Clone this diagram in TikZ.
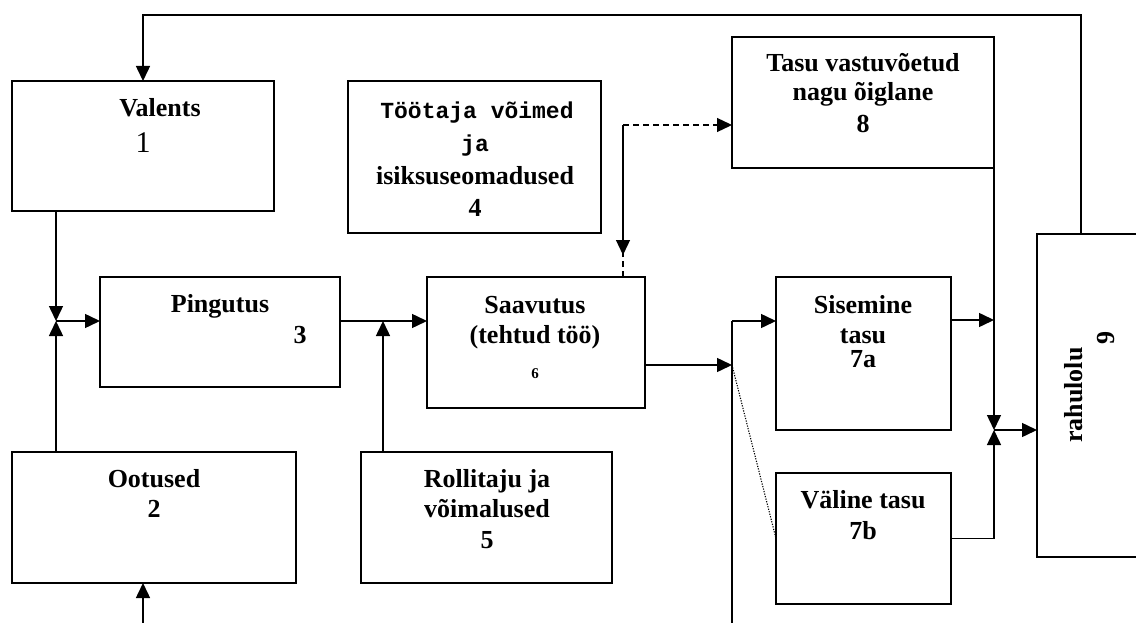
\documentclass[tikz,border=0pt]{standalone}
\usepackage{fontspec}
\setmainfont{Liberation Serif}
\newfontfamily\monobold{Liberation Mono}
\usetikzlibrary{arrows.meta}
\begin{document}
\begin{tikzpicture}[x=1pt,y=-1pt,
  box/.style={draw,line width=1.6pt,rectangle,inner sep=0pt,outer sep=0pt},
  link/.style={line width=1.5pt},
  arr/.style={link,-{Triangle[length=15pt,width=14pt]}},
  dashlink/.style={line width=1.3pt,dash pattern=on 6pt off 4pt},
  dotlink/.style={line width=1.1pt,dash pattern=on 1.2pt off 1.4pt},
  lbl/.style={inner sep=0pt,anchor=base,font=\fontsize{26}{31}\selectfont\bfseries},
  mono/.style={inner sep=0pt,anchor=base,font=\fontsize{23}{26}\selectfont\monobold\bfseries},
  bignum/.style={inner sep=0pt,anchor=base,font=\fontsize{30}{34}\selectfont},
  smallnum/.style={inner sep=0pt,anchor=base,font=\fontsize{15}{18}\selectfont\bfseries}
]
\useasboundingbox (0,0) rectangle (1136,623);

% boxes
\node[box,minimum width=262pt,minimum height=130pt] (val)  at (143,146) {};
\node[box,minimum width=253pt,minimum height=152pt] (abil) at (474.5,157) {};
\node[box,minimum width=262pt,minimum height=131pt] (fair) at (863,102.5) {};
\node[box,minimum width=240pt,minimum height=110pt] (eff)  at (220,332) {};
\node[box,minimum width=218pt,minimum height=131pt] (perf) at (536,342.5) {};
\node[box,minimum width=284pt,minimum height=131pt] (exp)  at (154,517.5) {};
\node[box,minimum width=251pt,minimum height=131pt] (role) at (486.5,517.5) {};
\node[box,minimum width=175pt,minimum height=153pt] (intr) at (863.5,353.5) {};
\node[box,minimum width=175pt,minimum height=131pt] (extr) at (863.5,538.5) {};
\node[box,minimum width=123pt,minimum height=323pt] (sat)  at (1098.5,395.5) {};

% labels, placed on their baselines
\node[lbl] (tval) at (160,117) {Valents};
\node[bignum] (nval) at (143,153) {1};
\node[mono] (tab1) at (477,119) {Töötaja võimed};
\node[mono] (tab2) at (475,152) {ja};
\node[lbl] (tab3) at (475,185) {isiksuseomadused};
\node[lbl] (tab4) at (475,217) {4};
\node[lbl] (tfair1) at (863,72) {Tasu vastuvõetud};
\node[lbl] (tfair2) at (863,101) {nagu õiglane};
\node[lbl] (tfair3) at (863,133) {8};
\node[lbl] (teff) at (220,312) {Pingutus};
\node[lbl] (neff) at (300,343) {3};
\node[lbl] (tperf1) at (535,313) {Saavutus};
\node[lbl] (tperf2) at (535,343) {(tehtud töö)};
\node[smallnum] (nperf) at (535,378) {6};
\node[lbl] (texp) at (154,487) {Ootused};
\node[lbl] (nexp) at (154,517) {2};
\node[lbl] (trole1) at (487,487) {Rollitaju ja};
\node[lbl] (trole2) at (487,517) {võimalused};
\node[lbl] (trole3) at (487,548) {5};
\node[lbl] (tintr1) at (863,313) {Sisemine};
\node[lbl] (tintr2) at (863,343) {tasu};
\node[lbl] (tintr3) at (863,367) {7a};
\node[lbl] (textr1) at (863,508) {Väline tasu};
\node[lbl] (textr2) at (863,539) {7b};
\node[inner sep=0pt,font=\fontsize{26}{31}\selectfont\bfseries,rotate=90] (tsat) at (1074,395) {rahulolu};
\node[inner sep=0pt,font=\fontsize{26}{31}\selectfont\bfseries,rotate=90] (nsat) at (1106,338) {9};

% junction points
\coordinate (fbR) at (1081,15);
\coordinate (fbL) at (143,15);
\coordinate (j1) at (56,321);
\coordinate (j2) at (383,321);
\coordinate (in2) at (143,623);
\coordinate (dc) at (623,125);
\coordinate (dtip) at (623,255);
\coordinate (j3) at (732,365);
\coordinate (busTop) at (732,321);
\coordinate (busBot) at (732,623);
\coordinate (r1) at (994,320);
\coordinate (j4) at (994,430);

% feedback from satisfaction to valence
\draw[arr] (fbR |- sat.north) -- (fbR) -- (fbL) -- (val.north);

% valence and expectations into effort
\draw[arr] (val.south -| j1) -- (j1);
\draw[arr] (exp.north -| j1) -- (j1);
\draw[arr] (j1) -- (j1 -| eff.west);
\draw[arr] (in2) -- (in2 |- exp.south);

% effort into performance, with role perception
\draw[arr] (j1 -| eff.east) -- (j1 -| perf.west);
\draw[arr] (role.north -| j2) -- (j2);

% abilities (dashed) and perceived equity
\draw[dashlink] (dc |- perf.north) -- (dc);
\draw[dashlink,-{Triangle[length=15pt,width=14pt]}] (dc) -- (dc -| fair.west);
\draw[dashlink,-{Triangle[length=15pt,width=14pt]}] (dc) -- (dtip);

% performance to rewards
\draw[arr] (j3 -| perf.east) -- (j3);
\draw[link] (busBot) -- (busTop);
\draw[arr] (busTop) -- (busTop -| intr.west);
\draw[dotlink] (j3) -- (extr.west);

% rewards into satisfaction
\draw[arr] (r1 -| intr.east) -- (r1);
\draw[arr] (fair.south east) -- (j4);
\draw[arr] (extr.east) -| (j4);
\draw[arr] (j4) -- (j4 -| sat.west);
\end{tikzpicture}
\end{document}
